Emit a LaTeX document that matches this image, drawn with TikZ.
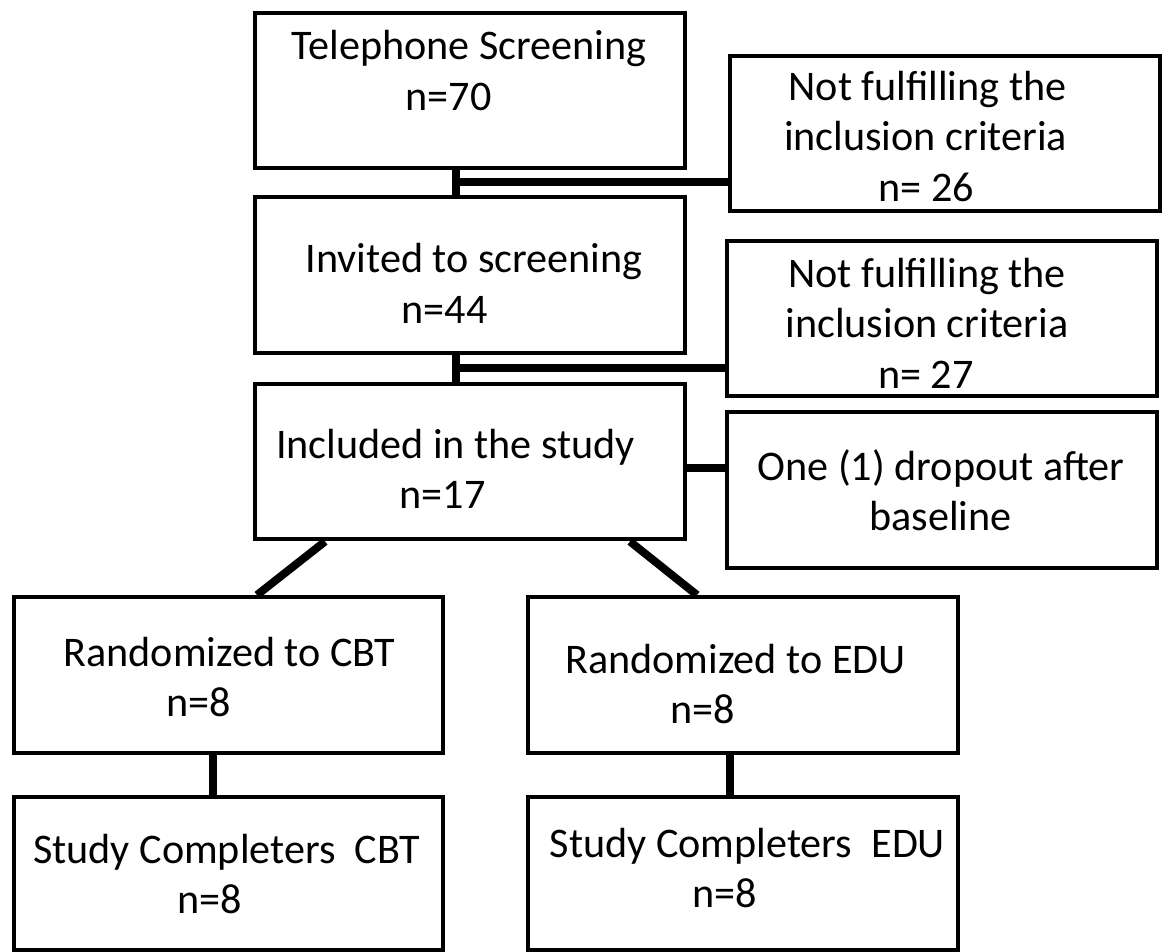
\documentclass[tikz,border=0pt]{standalone}
\usepackage{fontspec}
\setmainfont{Carlito}
\usetikzlibrary{calc}
\newdimen\pxu \pxu=0.2mm
\newcommand{\tline}[2]{\makebox[0pt]{\kern#1\pxu\kern#1\pxu #2}}
\newcommand{\rows}[1]{\begin{tabular}[t]{@{}c@{}}#1\end{tabular}}
\tikzset{
  flow/.style={draw, line width=0.8mm, inner sep=0pt, minimum width=8.6cm, minimum height=3.12cm,
    text height=0pt, font=\fontsize{24}{29}\selectfont},
  link/.style={line width=1.6mm},
}
\begin{document}
\begin{tikzpicture}[x=0.02cm,y=-0.02cm]
\useasboundingbox (0,0) rectangle (1162,952);
\node[flow,minimum height=3.1cm,text depth=12.2mm] (tel) at (470,90.5)
  {\rows{\tline{-1}{Telephone Screening}\\\tline{-21.5}{n=70}}};
\node[flow,text depth=13.4mm] (excl1) at (945,133.5)
  {\rows{\tline{-17.5}{Not fulfilling the}\\\tline{-19.5}{inclusion criteria}\\\tline{-18.5}{n= 26}}};
\node[flow,text depth=0.8mm] (inv) at (470,275)
  {\rows{\tline{4}{Invited to screening}\\\tline{-25.5}{n=44}}};
\node[flow,text depth=12.6mm] (excl2) at (942,318.5)
  {\rows{\tline{-15}{Not fulfilling the}\\\tline{-15}{inclusion criteria}\\\tline{-16}{n= 27}}};
\node[flow,text depth=1.4mm] (incl) at (470,461.5)
  {\rows{\tline{-14.5}{Included in the study}\\\tline{-27.5}{n=17}}};
\node[flow,text depth=4mm] (drop) at (942,490)
  {\rows{\tline{-1}{One (1) dropout after}\\\tline{-1.5}{baseline}}};
\node[flow,text depth=3.6mm] (cbt) at (228.5,675)
  {\rows{\tline{1}{Randomized to CBT}\\\tline{-29.5}{n=8}}};
\node[flow,text depth=0.8mm] (edu) at (743,675)
  {\rows{\tline{-7.5}{Randomized to EDU}\\\tline{-40.5}{n=8}}};
\node[flow,minimum height=3.06cm,text depth=4.2mm] (compcbt) at (228.5,873.5)
  {\rows{\tline{-2}{Study Completers\ \ CBT}\\\tline{-18.5}{n=8}}};
\node[flow,minimum height=3.06cm,text depth=6.6mm] (compedu) at (743,873.5)
  {\rows{\tline{4.5}{Study Completers\ \ EDU}\\\tline{-18.5}{n=8}}};
\coordinate (j1) at ($(tel.south)!0.5!(inv.north)+(-14,0)$);
\coordinate (j2) at ($(inv.south)!0.5!(incl.north)+(-14,0)$);
\draw[link] (tel.south -| j1) -- (inv.north -| j1);
\draw[link] (j1) -- (j1 -| excl1.west);
\draw[link] (inv.south -| j2) -- (incl.north -| j2);
\draw[link] (j2) -- (j2 -| excl2.west);
\draw[link] ([yshift=-1.3mm]incl.east) coordinate (j3) -- (j3 -| drop.west);
\draw[link] ([xshift=-29mm]incl.south) -- ([xshift=5.7mm]cbt.north);
\draw[link] ([xshift=32mm]incl.south) -- ([xshift=-9.2mm]edu.north);
\draw[link] ([xshift=-3.2mm]cbt.south) -- ([xshift=-3.2mm]compcbt.north);
\draw[link] ([xshift=-2.6mm]edu.south) -- ([xshift=-2.6mm]compedu.north);
\end{tikzpicture}
\end{document}
